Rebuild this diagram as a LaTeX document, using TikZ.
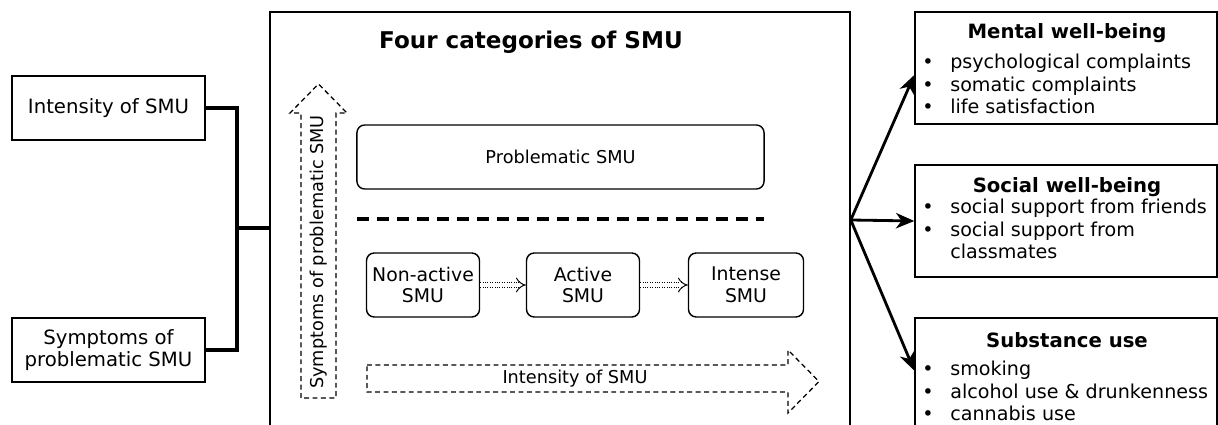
\documentclass[tikz,border=0pt]{standalone}
\usepackage{fontspec}
\setmainfont{DejaVu Sans}
\usetikzlibrary{arrows.meta,calc}

\newcommand{\itm}[1]{\makebox[0.7cm][l]{\textbullet}#1}

\begin{document}
\begin{tikzpicture}[x=0.025cm, y=-0.025cm,
  font=\fontsize{14}{15.6}\selectfont,
  sqbox/.style={draw, line width=1pt, align=center, inner sep=0pt},
  rbox/.style={draw, line width=1pt, rounded corners=5.5pt, align=center, inner sep=0pt},
  blockarrow/.style={draw, line width=0.9pt, dash pattern=on 3.5pt off 2.5pt},
  flow/.style={double, double distance=3pt, densely dotted, line width=0.7pt, -{Implies}},
  link/.style={line width=2.4pt},
  effect/.style={line width=2pt, -{Stealth[length=13pt, width=11pt, inset=4pt]}},
  small/.style={font=\fontsize{12.6}{15}\selectfont},
  list/.style={anchor=west, align=left, inner sep=0pt, font=\fontsize{13.6}{15.8}\selectfont}]
  \clip (0,0) rectangle (1218,425);

  % Left boxes
  \node[sqbox, minimum width=4.825cm, minimum height=1.6cm] (int) at (108.5,108) {Intensity of SMU};
  \node[sqbox, minimum width=4.825cm, minimum height=1.6cm] (sym) at (108.5,350) {Symptoms of\\problematic SMU};

  % Main box
  \node[sqbox, minimum width=14.5cm, minimum height=10.4cm] (main) at (560,220) {};
  \node[font=\fontsize{16.4}{19}\selectfont\bfseries] (title) at (531,42) {Four categories of SMU};

  \coordinate (join) at (237,228);
  \draw[link] (int.east) -| (join) |- (sym.east);
  \draw[link] (join) -- (join -| main.west);

  % Vertical arrow
  \draw[blockarrow] (301,398) -- (301,113) -- (290,113) -- (318.5,84) -- (347,113)
    -- (336,113) -- (336,398) -- cycle;
  \node[small, rotate=90] (symlab) at (318.5,252) {Symptoms of problematic SMU};

  % Categories
  \node[rbox, small, minimum width=10.175cm, minimum height=1.6cm] (prob) at (560.5,157) {Problematic SMU};
  \draw[line width=2.2pt, dash pattern=on 8.5pt off 5.7pt] (357,219) -- (764,219);

  \node[rbox, font=\fontsize{13.4}{15.6}\selectfont, minimum width=2.825cm, minimum height=1.6cm] (nonact) at (423,285) {Non-active\\SMU};
  \node[rbox, font=\fontsize{13.4}{15.6}\selectfont, minimum width=2.825cm, minimum height=1.6cm] (act) at (583,285) {Active\\SMU};
  \node[rbox, font=\fontsize{13.4}{15.6}\selectfont, minimum width=2.875cm, minimum height=1.6cm] (intense) at (746,285) {Intense\\SMU};
  \draw[flow] (nonact) -- (act);
  \draw[flow] (act) -- (intense);

  % Horizontal arrow
  \draw[blockarrow] (367,365) -- (788,365) -- (788,350) -- (819,381.5) -- (788,413)
    -- (788,392) -- (367,392) -- cycle;
  \node[small] (intlab) at (575,379) {Intensity of SMU};

  % Outcomes
  \node[sqbox, minimum width=7.55cm, minimum height=2.8cm] (mental) at (1066,68) {};
  \node[sqbox, minimum width=7.55cm, minimum height=2.8cm] (social) at (1066,221) {};
  \node[sqbox, minimum width=7.55cm, minimum height=3.05cm] (subst) at (1066,379) {};

  \node (mentalt) at (1067,33) {\textbf{Mental well-being}};
  \node[list] (mentall) at (922,84) {\itm{psychological complaints}\\\itm{somatic complaints}\\\itm{life satisfaction}};
  \node (socialt) at (1067,187) {\textbf{Social well-being}};
  \node[list] (sociall) at (922,229) {\itm{social support from friends}\\\itm{social support from}\\\hspace*{0.7cm}classmates};
  \node (substt) at (1067,340) {\textbf{Substance use}};
  \node[list] (substl) at (922,391) {\itm{smoking}\\\itm{alcohol use \& drunkenness}\\\itm{cannabis use}};

  \draw[effect] (main.east) -- ([yshift=-5pt]mental.west);
  \draw[effect] (main.east) -- (social.west);
  \draw[effect] (main.east) -- ([yshift=6pt]subst.west);
\end{tikzpicture}
\end{document}
